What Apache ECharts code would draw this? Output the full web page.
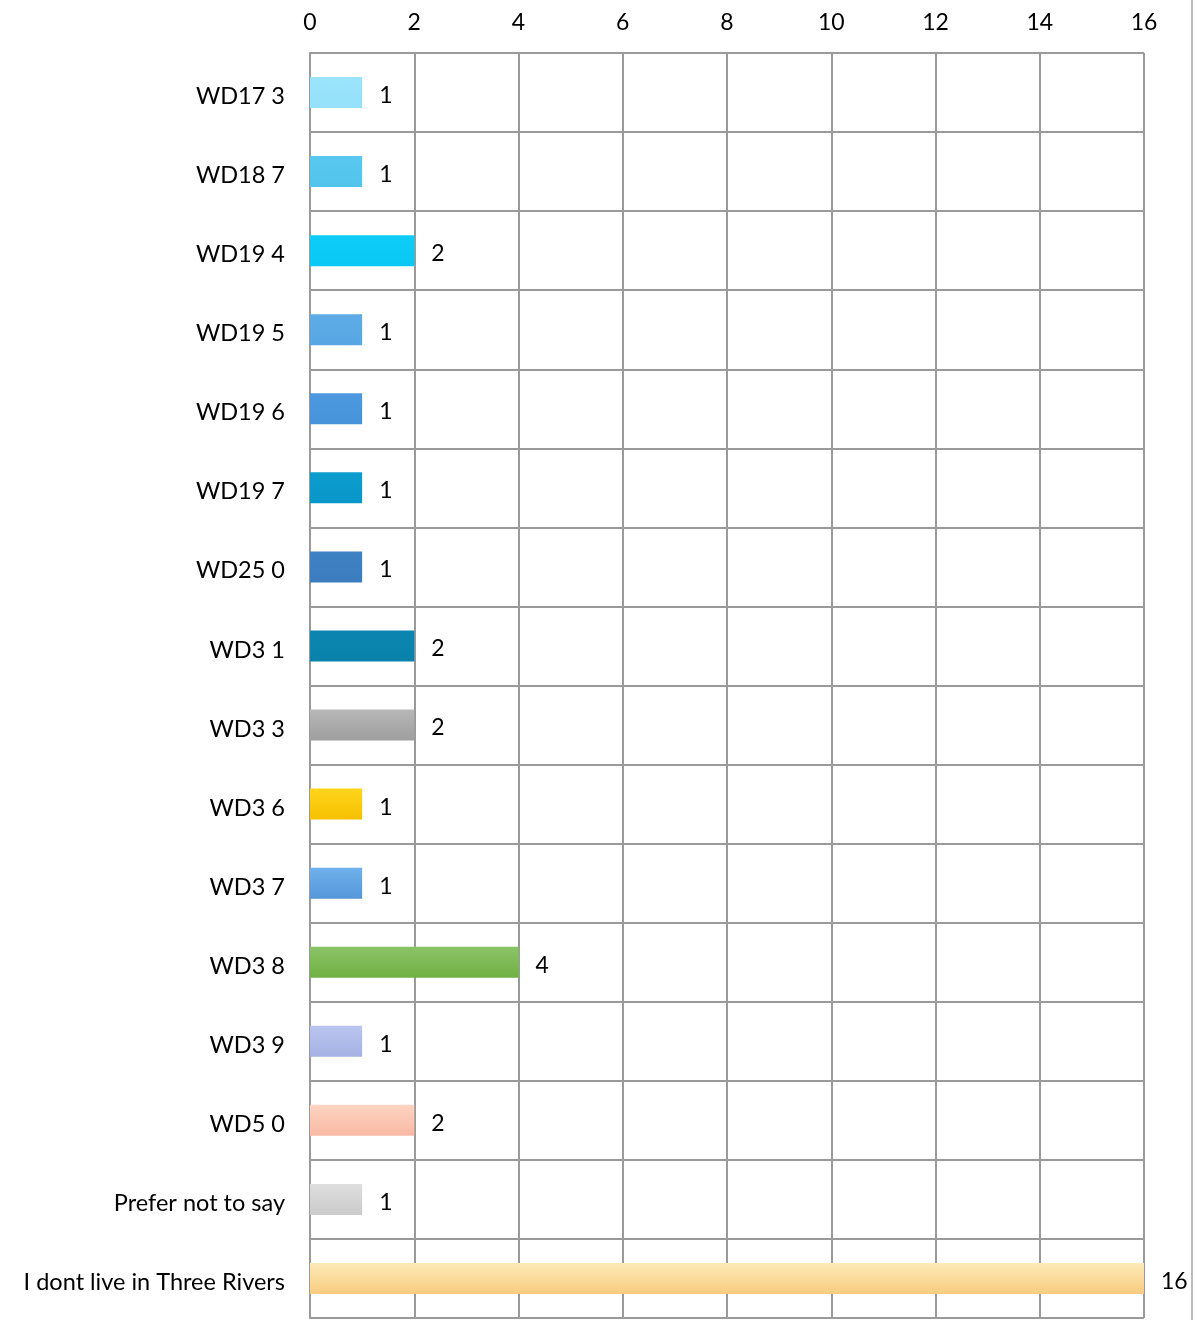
<!DOCTYPE html>
<html><head><meta charset="utf-8">
<script src="https://cdn.jsdelivr.net/npm/echarts@6/dist/echarts.min.js"></script>
<style>html,body{margin:0;padding:0;background:#fff}#c{width:1204px;height:1320px}</style>
</head><body><div id="c"></div>
<script>
const categories = ["WD17 3","WD18 7","WD19 4","WD19 5","WD19 6","WD19 7","WD25 0","WD3 1","WD3 3","WD3 6","WD3 7","WD3 8","WD3 9","WD5 0","Prefer not to say","I dont live in Three Rivers"];
const values = [1,1,2,1,1,1,1,2,2,1,1,4,1,2,1,16];
const barColorsTop = ["#9ae4fc","#58c8ef","#0dccf7","#5eace7","#4c99df","#0c9ccd","#3f82c4","#0b86b0","#b8b8b8","#ffd51c","#6fb2ec","#8bc368","#bbc5ef","#fdd3c2","#dedede","#fde9b7"];
const barColorsBottom = ["#95e0fa","#52c4ec","#0ac8f4","#56a6e3","#4693da","#0997c9","#3b7cbe","#0a82ab","#9e9e9e","#f7c000","#5596d9","#70b042","#a4b1e3","#f8b9a3","#cbcbcb","#f8cc80"];
const xTicks = [0,2,4,6,8,10,12,14,16];

const chart = echarts.init(document.getElementById('c'));
const font = 'Lato, sans-serif';
chart.setOption({
  animation:false,
  grid:{left:310,right:60,top:53,bottom:2,containLabel:false},
  xAxis:{type:'value',position:'top',min:0,max:16,interval:2,
    axisLine:{show:false},axisTick:{show:false},
    axisLabel:{color:'#000',fontSize:23,fontFamily:font,margin:19,
      formatter:v=>xTicks.includes(v)?String(v):''},
    splitLine:{show:true,lineStyle:{color:'#9a9a9a',width:2}}},
  yAxis:{type:'category',data:categories,inverse:true,
    axisLine:{show:true,lineStyle:{color:'#9a9a9a',width:2}},axisTick:{show:false},
    axisLabel:{color:'#000',fontSize:23.5,fontFamily:font,margin:25,verticalAlign:'middle',lineHeight:23,
      formatter:v=>'{t|'+v+'}',rich:{t:{fontSize:23.5,fontFamily:font,color:'#000',padding:[8,0,0,0]}}},
    splitLine:{show:true,lineStyle:{color:'#9a9a9a',width:2}}},
  series:[{type:'bar',barWidth:31,
    data:values.map((v,i)=>({value:v,itemStyle:{color:new echarts.graphic.LinearGradient(0,0,0,1,[{offset:0,color:barColorsTop[i]},{offset:1,color:barColorsBottom[i]}])}})),
    label:{show:true,position:'right',distance:17,offset:[0,3],color:'#000',fontSize:23,fontFamily:font},
    z:3}],
  graphic:[
    {type:'rect',shape:{x:1144,y:53,width:0,height:1265},style:{stroke:'#9a9a9a',lineWidth:2,fill:null},z:1},
    {type:'rect',shape:{x:310,y:1318,width:834,height:0},style:{stroke:'#9a9a9a',lineWidth:2,fill:null},z:1},
    {type:'line',shape:{x1:1192,y1:0,x2:1192,y2:1320},style:{stroke:'#a6a6a6',lineWidth:1.5}}
  ]
});
</script></body></html>
